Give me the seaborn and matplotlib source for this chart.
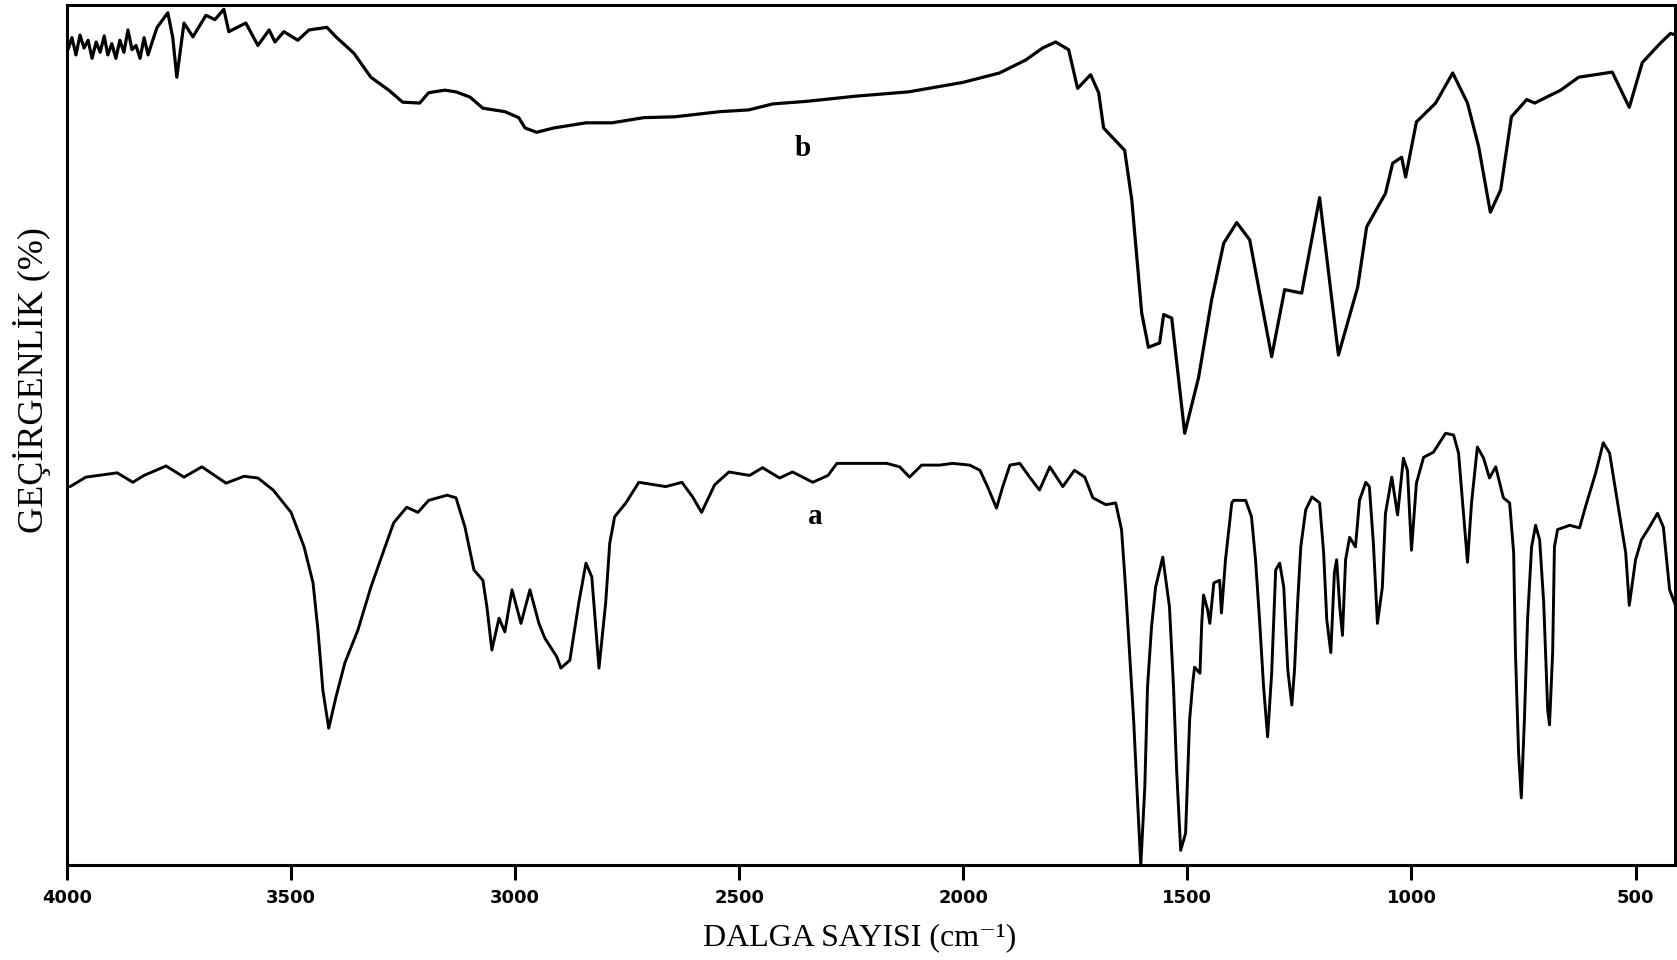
import matplotlib
matplotlib.use("Agg")
import matplotlib.pyplot as plt
import seaborn as sns
import pandas as pd

# ---- data ----
# spectrum b (upper trace): wavenumber (cm-1), transmittance (arbitrary %)
wn_b = [3998, 3989, 3980, 3971, 3962, 3953, 3944, 3935, 3926, 3917, 3909, 3900,
        3891, 3882, 3873, 3864, 3855, 3846, 3837, 3828, 3819, 3810, 3799, 3775,
        3764, 3755, 3739, 3719, 3690, 3670, 3650, 3639, 3601, 3574, 3549, 3536,
        3516, 3485, 3460, 3420, 3400, 3360, 3322, 3282, 3251, 3213, 3193, 3157,
        3132, 3101, 3072, 3023, 2992, 2978, 2952, 2914, 2842, 2784, 2713, 2644,
        2543, 2479, 2425, 2349, 2240, 2122, 2001, 1919, 1861, 1823, 1794, 1765,
        1745, 1716, 1698, 1687, 1640, 1624, 1602, 1587, 1562, 1553, 1535, 1506,
        1475, 1446, 1419, 1390, 1361, 1312, 1283, 1245, 1205, 1163, 1120, 1100,
        1058, 1042, 1022, 1013, 989, 946, 908, 875, 850, 824, 801, 777, 743, 725,
        667, 627, 552, 514, 485, 444, 422, 411]
tr_b = [94.8, 96.2, 94.2, 96.5, 95.0, 95.9, 93.8, 95.7, 94.5, 96.4, 94.2, 95.5,
        93.8, 95.9, 94.5, 97.1, 94.8, 95.3, 93.8, 96.2, 94.2, 95.7, 97.4, 99.1,
        96.2, 91.6, 97.9, 96.3, 98.8, 98.3, 99.5, 96.9, 97.9, 95.3, 97.1, 95.7,
        96.9, 95.9, 97.1, 97.4, 96.3, 94.4, 91.6, 90.1, 88.7, 88.6, 89.8, 90.1,
        89.9, 89.3, 88.0, 87.6, 86.9, 85.7, 85.2, 85.7, 86.3, 86.3, 86.9, 87.0,
        87.6, 87.8, 88.5, 88.8, 89.4, 89.9, 91.0, 92.1, 93.6, 95.0, 95.7, 94.8,
        90.3, 91.9, 89.8, 85.7, 83.1, 77.3, 64.2, 60.2, 60.7, 64.0, 63.6, 50.2,
        56.7, 65.7, 72.3, 74.7, 72.7, 59.1, 66.9, 66.5, 77.6, 59.3, 67.2, 74.2,
        78.1, 81.6, 82.3, 80.0, 86.4, 88.6, 92.1, 88.6, 83.5, 75.9, 78.5, 87.0,
        89.0, 88.6, 90.1, 91.6, 92.2, 88.1, 93.3, 95.6, 96.7, 96.5]

# spectrum a (lower trace)
wn_a = [3993, 3958, 3888, 3853, 3828, 3779, 3739, 3699, 3645, 3605, 3574, 3540,
        3500, 3471, 3451, 3440, 3429, 3416, 3400, 3380, 3351, 3322, 3295, 3271,
        3242, 3217, 3193, 3152, 3132, 3112, 3092, 3072, 3063, 3052, 3036, 3023,
        3007, 2987, 2967, 2947, 2934, 2907, 2898, 2878, 2858, 2842, 2829, 2813,
        2798, 2789, 2778, 2753, 2724, 2664, 2628, 2604, 2584, 2555, 2523, 2477,
        2448, 2410, 2381, 2336, 2302, 2282, 2215, 2171, 2142, 2120, 2093, 2053,
        2024, 1986, 1963, 1946, 1926, 1912, 1896, 1874, 1852, 1830, 1807, 1778,
        1752, 1729, 1711, 1682, 1660, 1647, 1638, 1629, 1620, 1611, 1604, 1595,
        1589, 1580, 1571, 1555, 1540, 1531, 1524, 1515, 1504, 1495, 1488, 1484,
        1472, 1468, 1464, 1455, 1450, 1441, 1428, 1424, 1415, 1401, 1397, 1370,
        1357, 1348, 1339, 1330, 1321, 1312, 1303, 1294, 1285, 1276, 1267, 1261,
        1254, 1247, 1236, 1222, 1205, 1196, 1189, 1180, 1172, 1167, 1160, 1154,
        1147, 1138, 1125, 1116, 1102, 1094, 1085, 1076, 1065, 1058, 1044, 1031,
        1018, 1009, 1000, 989, 973, 951, 924, 906, 895, 884, 875, 866, 853, 839,
        826, 812, 795, 781, 772, 768, 761, 755, 748, 741, 732, 723, 714, 705, 696,
        692, 685, 681, 674, 647, 625, 612, 589, 572, 558, 540, 522, 514, 500, 487,
        469, 451, 438, 424, 411]
tr_a = [44.0, 45.1, 45.6, 44.5, 45.3, 46.4, 45.1, 46.3, 44.4, 45.2, 45.0, 43.6,
        41.0, 37.0, 32.8, 27.3, 20.3, 15.9, 19.5, 23.5, 27.3, 32.3, 36.3, 39.8,
        41.6, 41.0, 42.4, 43.0, 42.7, 39.3, 34.3, 33.1, 30.0, 25.0, 28.7, 27.1,
        32.0, 28.1, 32.0, 28.1, 26.4, 24.2, 22.9, 23.8, 30.5, 35.1, 33.5, 22.9,
        30.5, 37.4, 40.5, 42.1, 44.5, 44.0, 44.5, 42.8, 41.0, 44.2, 45.7, 45.3,
        46.2, 45.0, 45.7, 44.5, 45.3, 46.7, 46.7, 46.7, 46.3, 45.1, 46.5, 46.5,
        46.7, 46.5, 45.9, 44.0, 41.5, 44.0, 46.5, 46.7, 45.1, 43.6, 46.3, 44.0,
        45.9, 45.1, 42.7, 41.9, 42.1, 39.0, 32.3, 24.7, 16.9, 7.2, 0.0, 9.1,
        20.7, 27.7, 32.3, 35.8, 30.0, 20.7, 11.0, 1.7, 3.7, 16.9, 21.2, 23.0,
        22.3, 28.1, 31.4, 29.7, 28.1, 32.8, 33.1, 29.3, 35.5, 42.1, 42.4, 42.4,
        40.5, 35.5, 28.5, 20.7, 14.9, 22.3, 34.3, 35.1, 32.3, 22.7, 18.6, 22.7,
        30.5, 37.0, 41.3, 42.8, 42.1, 36.3, 28.5, 24.7, 34.0, 35.5, 30.0, 26.7,
        35.5, 38.1, 37.0, 42.4, 44.5, 44.0, 37.4, 28.1, 32.3, 40.9, 45.1, 40.7,
        47.3, 45.9, 36.6, 44.4, 47.4, 48.0, 50.2, 50.0, 47.9, 40.9, 35.2, 42.1,
        48.6, 47.3, 45.0, 46.3, 42.7, 42.1, 36.3, 24.7, 13.0, 7.8, 16.9, 28.5,
        37.0, 39.5, 37.8, 30.5, 18.0, 16.3, 24.7, 37.0, 39.0, 39.5, 39.2, 41.6,
        45.6, 49.1, 47.9, 42.1, 36.3, 30.2, 35.5, 37.8, 39.3, 40.9, 39.3, 32.0,
        30.2]

xticks = [4000, 3500, 3000, 2500, 2000, 1500, 1000, 500]
xtick_labels = ["4000", "3500", "3000", "2500", "2000", "1500", "1000", "500"]
series_labels = ["b", "a"]
label_wn = [2359, 2331]
label_tr = [83.3, 40.5]
xlabel = "DALGA SAYISI (cm⁻¹)"
ylabel = "GEÇİRGENLİK (%)"

# ---- plotting ----
sns.set_theme(style="white")
plt.rcParams["font.family"] = ["Liberation Serif", "DejaVu Serif"]

df_b = pd.DataFrame({"wn": wn_b, "T": tr_b})
df_a = pd.DataFrame({"wn": wn_a, "T": tr_a})

fig = plt.figure(figsize=(16.77, 9.6), dpi=100)
ax = fig.add_axes([67 / 1677, 95 / 960, 1608 / 1677, 860 / 960])

sns.lineplot(data=df_b, x="wn", y="T", ax=ax, color="black", linewidth=2.3,
             estimator=None, sort=False)
sns.lineplot(data=df_a, x="wn", y="T", ax=ax, color="black", linewidth=2.1,
             estimator=None, sort=False)

ax.set_xlim(4000, 412)
ax.set_ylim(0, 100)
ax.set_xticks(xticks)
ax.set_xticklabels(xtick_labels, fontfamily="DejaVu Sans", fontweight="bold",
                   fontsize=13)
ax.set_yticks([])
ax.set_xlabel("")
ax.set_ylabel("")
ax.tick_params(axis="x", direction="out", length=11, width=2.2, pad=6,
               bottom=True, colors="black")
for s in ax.spines.values():
    s.set_visible(True)
    s.set_color("black")
    s.set_linewidth(2.2)

for lab, w, t in zip(series_labels, label_wn, label_tr):
    ax.text(w, t, lab, fontsize=21, fontweight="bold",
            ha="center", va="center", color="black")

fig.text(860 / 1677, 1 - 938 / 960, xlabel, fontsize=23, ha="center",
         va="center", color="black")
fig.text(32 / 1677, 1 - 380 / 960, ylabel, fontsize=26, rotation=90,
         ha="center", va="center", color="black")

fig.savefig("out.png", dpi=100, facecolor="white")
